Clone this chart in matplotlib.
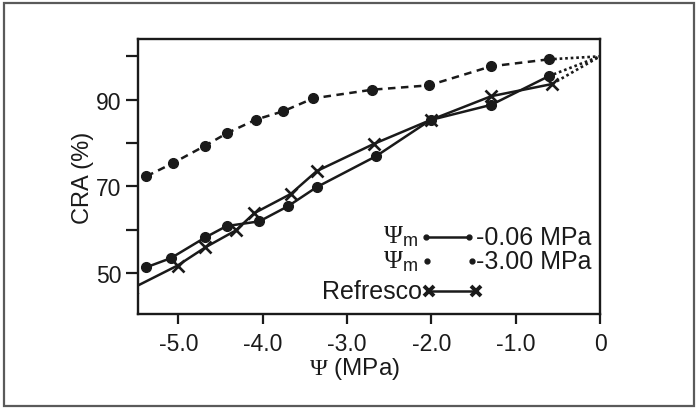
import matplotlib.pyplot as plt
from matplotlib.patches import Rectangle

plt.rcParams['font.family'] = ['Liberation Sans', 'DejaVu Sans']
plt.rcParams['mathtext.fontset'] = 'custom'
plt.rcParams['mathtext.rm'] = 'Liberation Serif'
plt.rcParams['mathtext.sf'] = 'Liberation Sans'
plt.rcParams['mathtext.it'] = 'Liberation Serif:italic'

# Psi (MPa) and CRA (%)
psi_wet = [-5.38, -5.09, -4.68, -4.43, -4.04, -3.70, -3.36, -2.66, -2.01, -1.29, -0.61]
cra_wet = [51.3, 53.4, 58.2, 60.8, 61.9, 65.4, 69.8, 76.9, 85.3, 88.8, 95.4]

psi_dry = [-5.38, -5.07, -4.68, -4.42, -4.08, -3.76, -3.40, -2.70, -2.03, -1.29, -0.61]
cra_dry = [72.3, 75.3, 79.4, 82.3, 85.4, 87.3, 90.3, 92.3, 93.3, 97.7, 99.3]

psi_ref = [-5.55, -5.01, -4.68, -4.32, -4.10, -3.67, -3.36, -2.68, -2.01, -1.29, -0.57]
cra_ref = [46.4, 51.7, 55.9, 59.8, 63.8, 68.2, 73.5, 79.8, 85.3, 90.8, 93.6]

# all curves run to 100 % at 0 MPa
psi_end = 0.0
cra_end = 100.0

xticks = [-5, -4, -3, -2, -1, 0]
xlabels = ['-5.0', '-4.0', '-3.0', '-2.0', '-1.0', '0']
yticks = [50, 60, 70, 80, 90, 100]
ylabels = ['50', '', '70', '', '90', '']

ink = '#1a1a1a'

fig = plt.figure(figsize=(6.99, 4.10), dpi=100)
ax = fig.add_axes([0.1974, 0.2317, 0.661, 0.6707])

ax.plot(psi_dry, cra_dry, color=ink, lw=1.8, linestyle=(0, (3, 2.2)),
        marker='o', markersize=7, clip_on=False, zorder=3)
ax.plot(psi_wet, cra_wet, color=ink, lw=1.8, linestyle='-',
        marker='o', markersize=7, zorder=3)
ax.plot(psi_ref, cra_ref, color=ink, lw=1.8, linestyle='-',
        marker='x', markersize=9, markeredgewidth=1.9, zorder=3)

for xs, ys in [(psi_dry, cra_dry), (psi_wet, cra_wet), (psi_ref, cra_ref)]:
    ax.plot([xs[-1], psi_end], [ys[-1], cra_end], color=ink, lw=1.9,
            linestyle=(0, (1, 1.1)), clip_on=False, zorder=2)

ax.set_xlim(-5.48, 0)
ax.set_ylim(40.5, 104)
ax.set_xticks(xticks)
ax.set_xticklabels(xlabels)
ax.set_yticks(yticks)
ax.set_yticklabels(ylabels)
ax.tick_params(axis='x', direction='out', length=7, width=1.6, pad=6,
               labelsize=16.5, colors=ink)
ax.tick_params(axis='y', direction='out', length=9, width=1.6, pad=3,
               labelsize=16.5, colors=ink)
for s in ax.spines.values():
    s.set_linewidth(1.7)
    s.set_color(ink)

ax.set_xlabel(r'$\Psi$ (MPa)', fontsize=17.5, color=ink)
ax.xaxis.set_label_coords(0.469, -0.15)
ax.set_ylabel('CRA (%)', fontsize=17, color=ink)
ax.yaxis.set_label_coords(-0.095, 0.5)

# hand-made legend, lower right
tr = ax.transAxes
ax.text(0.606, 0.285, r'$\Psi_{\mathsf{m}}$', transform=tr, fontsize=18.5,
        ha='right', va='center', color=ink)
ax.plot([0.623, 0.717], [0.279, 0.279], transform=tr, color=ink, lw=1.8,
        marker='o', markersize=3.5)
ax.text(0.731, 0.279, '-0.06 MPa', transform=tr, fontsize=18,
        ha='left', va='center', color=ink)

ax.text(0.606, 0.194, r'$\Psi_{\mathsf{m}}$', transform=tr, fontsize=18.5,
        ha='right', va='center', color=ink)
ax.plot([0.625, 0.722], [0.194, 0.194], transform=tr, color=ink, lw=0,
        marker='o', markersize=3.5)
ax.text(0.731, 0.194, '-3.00 MPa', transform=tr, fontsize=18,
        ha='left', va='center', color=ink)

ax.text(0.614, 0.085, 'Refresco', transform=tr, fontsize=18,
        ha='right', va='center', color=ink)
ax.plot([0.630, 0.731], [0.085, 0.085], transform=tr, color=ink, lw=1.8,
        marker='x', markersize=6.5, markeredgewidth=2.8)

fig.patches.append(Rectangle((0.006, 0.008), 0.987, 0.983, transform=fig.transFigure,
                             fill=False, edgecolor='#5a5a5a', lw=1.6))

fig.savefig('out.png', dpi=100)
